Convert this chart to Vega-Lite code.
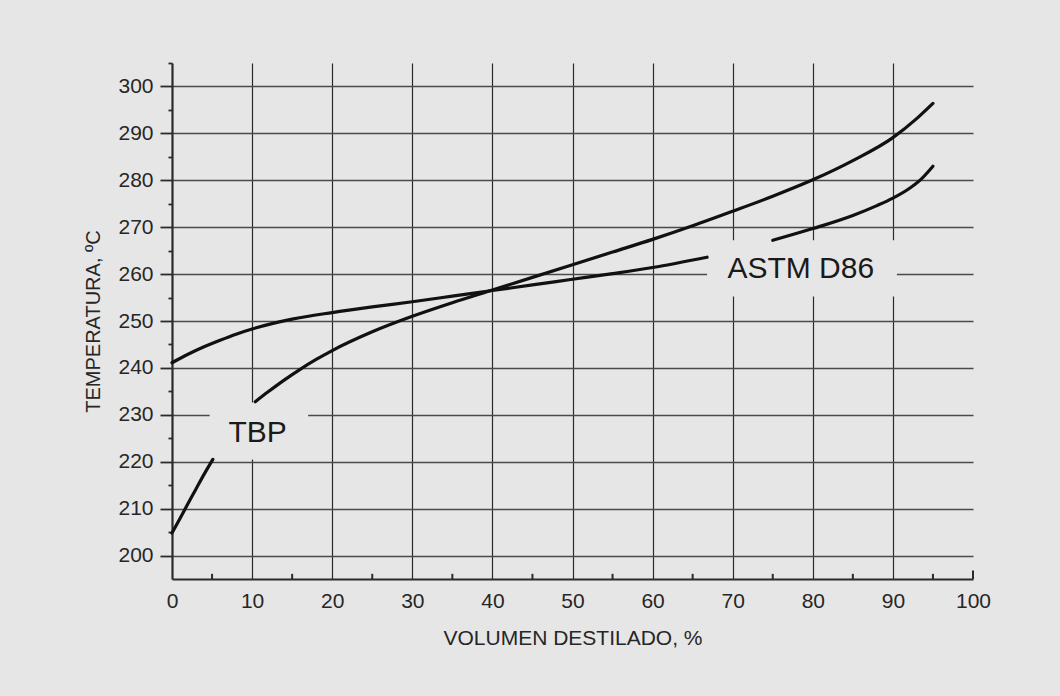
{
  "$schema": "https://vega.github.io/schema/vega-lite/v6.json",
  "width": 801,
  "height": 516,
  "autosize": {"type": "none"},
  "padding": {"left": 172, "top": 63, "right": 87, "bottom": 117},
  "background": "#e6e6e6",
  "config": {
    "view": {"stroke": null},
    "font": "Liberation Sans"
  },
  "encoding": {
    "x": {
      "field": "x",
      "type": "quantitative",
      "scale": {"domain": [0, 100], "nice": false, "zero": false},
      "axis": {
        "title": "VOLUMEN DESTILADO, %",
        "values": [0, 10, 20, 30, 40, 50, 60, 70, 80, 90, 100],
        "ticks": false,
        "tickSize": 0,
        "domainColor": "#2b2b2b",
        "domainWidth": 2.2,
        "grid": true,
        "gridColor": "#2b2b2b",
        "gridWidth": 1.2,
        "gridOpacity": {"condition": {"test": "datum.value > 0 && datum.value < 100", "value": 1}, "value": 0},
        "labelFont": "Liberation Sans",
        "labelFontSize": 21,
        "labelColor": "#262626",
        "labelPadding": 11,
        "labelFlush": false,
        "titleFont": "Liberation Sans",
        "titleFontSize": 21,
        "titleFontWeight": "normal",
        "titleColor": "#262626",
        "titlePadding": 16
      }
    },
    "y": {
      "field": "y",
      "type": "quantitative",
      "scale": {"domain": [195, 305], "nice": false, "zero": false},
      "axis": {
        "title": "TEMPERATURA, ºC",
        "values": [200, 205, 210, 215, 220, 225, 230, 235, 240, 245, 250, 255, 260, 265, 270, 275, 280, 285, 290, 295, 300, 305],
        "labelExpr": "datum.value % 10 === 0 && datum.value <= 300 ? datum.label : ''",
        "ticks": true,
        "tickColor": "#2b2b2b",
        "tickWidth": 1.8,
        "tickSize": {"condition": {"test": "datum.value % 10 === 0 && datum.value <= 300", "value": 12}, "value": 4},
        "domainColor": "#2b2b2b",
        "domainWidth": 2.2,
        "grid": true,
        "gridColor": "#4a4a4a",
        "gridWidth": 1.6,
        "gridOpacity": {"condition": {"test": "datum.value % 10 === 0 && datum.value <= 300", "value": 1}, "value": 0},
        "labelFont": "Liberation Sans",
        "labelFontSize": 21,
        "labelColor": "#262626",
        "labelPadding": 7,
        "labelFlush": false,
        "titleFont": "Liberation Sans",
        "titleFontSize": 20,
        "titleFontWeight": "normal",
        "titleColor": "#262626",
        "titlePadding": 14
      }
    }
  },
  "layer": [
    {
      "data": {"values": [
        {"x": 4.7, "x2": 17.0, "y": 220.45, "y2": 232.6},
        {"x": 66.8, "x2": 90.5, "y": 255.2, "y2": 267.2}
      ]},
      "mark": {"type": "rect", "fill": "#e6e6e6", "stroke": null},
      "encoding": {
        "x2": {"field": "x2"},
        "y2": {"field": "y2"}
      }
    },
    {
      "data": {"values": [
        {"s": "TBP1", "x": 0, "y": 204.8},
        {"s": "TBP1", "x": 1, "y": 207.9},
        {"s": "TBP1", "x": 2, "y": 211.1},
        {"s": "TBP1", "x": 3, "y": 214.2},
        {"s": "TBP1", "x": 4, "y": 217.3},
        {"s": "TBP1", "x": 5.1, "y": 220.5},
        {"s": "TBP2", "x": 10.4, "y": 232.8},
        {"s": "TBP2", "x": 12, "y": 234.9},
        {"s": "TBP2", "x": 14, "y": 237.4},
        {"s": "TBP2", "x": 16, "y": 239.7},
        {"s": "TBP2", "x": 18, "y": 241.8},
        {"s": "TBP2", "x": 20, "y": 243.7},
        {"s": "TBP2", "x": 25, "y": 247.7},
        {"s": "TBP2", "x": 30, "y": 251.0},
        {"s": "TBP2", "x": 35, "y": 253.9},
        {"s": "TBP2", "x": 40, "y": 256.6},
        {"s": "TBP2", "x": 45, "y": 259.3},
        {"s": "TBP2", "x": 50, "y": 262.0},
        {"s": "TBP2", "x": 55, "y": 264.7},
        {"s": "TBP2", "x": 60, "y": 267.4},
        {"s": "TBP2", "x": 65, "y": 270.3},
        {"s": "TBP2", "x": 70, "y": 273.4},
        {"s": "TBP2", "x": 75, "y": 276.6},
        {"s": "TBP2", "x": 80, "y": 280.1},
        {"s": "TBP2", "x": 85, "y": 284.2},
        {"s": "TBP2", "x": 90, "y": 289.1},
        {"s": "TBP2", "x": 93, "y": 293.2},
        {"s": "TBP2", "x": 95, "y": 296.4},
        {"s": "ASTM1", "x": 0, "y": 241.1},
        {"s": "ASTM1", "x": 2, "y": 242.9},
        {"s": "ASTM1", "x": 4, "y": 244.5},
        {"s": "ASTM1", "x": 6, "y": 245.9},
        {"s": "ASTM1", "x": 8, "y": 247.2},
        {"s": "ASTM1", "x": 10, "y": 248.3},
        {"s": "ASTM1", "x": 15, "y": 250.4},
        {"s": "ASTM1", "x": 20, "y": 251.8},
        {"s": "ASTM1", "x": 25, "y": 253.0},
        {"s": "ASTM1", "x": 30, "y": 254.1},
        {"s": "ASTM1", "x": 35, "y": 255.3},
        {"s": "ASTM1", "x": 40, "y": 256.5},
        {"s": "ASTM1", "x": 45, "y": 257.7},
        {"s": "ASTM1", "x": 50, "y": 258.9},
        {"s": "ASTM1", "x": 55, "y": 260.1},
        {"s": "ASTM1", "x": 60, "y": 261.4},
        {"s": "ASTM1", "x": 66.8, "y": 263.6},
        {"s": "ASTM2", "x": 75, "y": 267.2},
        {"s": "ASTM2", "x": 80, "y": 269.7},
        {"s": "ASTM2", "x": 85, "y": 272.5},
        {"s": "ASTM2", "x": 88, "y": 274.6},
        {"s": "ASTM2", "x": 90, "y": 276.2},
        {"s": "ASTM2", "x": 92, "y": 278.2},
        {"s": "ASTM2", "x": 93.5, "y": 280.2},
        {"s": "ASTM2", "x": 95, "y": 283.0}
      ]},
      "mark": {"type": "line", "interpolate": "monotone", "color": "#111111", "strokeWidth": 3.2, "strokeCap": "round"},
      "encoding": {
        "detail": {"field": "s", "type": "nominal"}
      }
    },
    {
      "data": {"values": [
        {"label": "TBP", "x": 10.7, "y": 226.2},
        {"label": "ASTM D86", "x": 78.5, "y": 261.0}
      ]},
      "mark": {"type": "text", "font": "Liberation Sans", "fontSize": 30, "color": "#1a1a1a", "align": "center", "baseline": "middle"},
      "encoding": {
        "text": {"field": "label", "type": "nominal"}
      }
    },
    {
      "data": {"values": [
        {"x": 5, "y": 195, "y2": 196.1},
        {"x": 15, "y": 195, "y2": 196.1},
        {"x": 25, "y": 195, "y2": 196.1},
        {"x": 35, "y": 195, "y2": 196.1},
        {"x": 45, "y": 195, "y2": 196.1},
        {"x": 55, "y": 195, "y2": 196.1},
        {"x": 65, "y": 195, "y2": 196.1},
        {"x": 75, "y": 195, "y2": 196.1},
        {"x": 85, "y": 195, "y2": 196.1},
        {"x": 95, "y": 195, "y2": 196.1},
        {"x": 100, "y": 195, "y2": 196.8}
      ]},
      "mark": {"type": "rule", "color": "#2b2b2b", "strokeWidth": 2},
      "encoding": {
        "y2": {"field": "y2"}
      }
    }
  ]
}
